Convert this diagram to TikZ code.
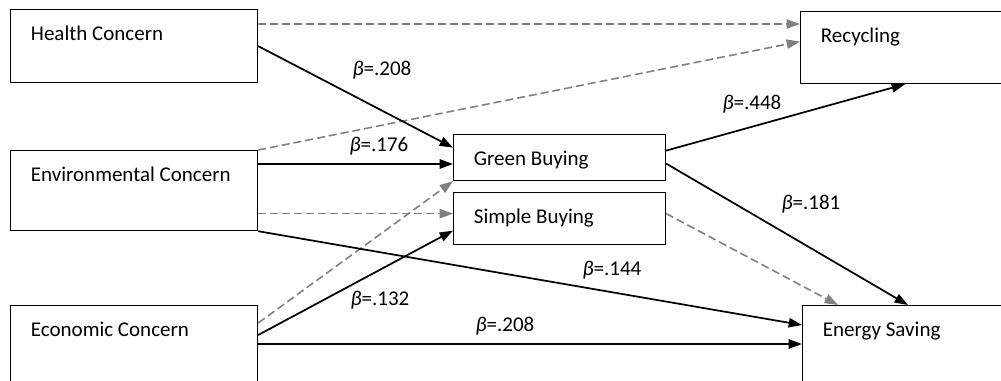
\documentclass[tikz,border=0pt]{standalone}
\usepackage{fontspec}
\setmainfont{Carlito}
\usetikzlibrary{arrows.meta}
\definecolor{cgray}{RGB}{128,128,128}

\begin{document}
\begin{tikzpicture}[x=0.75pt, y=-0.75pt,
    every node/.style={font=\fontsize{15.75}{19}\selectfont},
    box/.style={draw, line width=0.9pt, anchor=north west, inner sep=0pt,
                label={[anchor=base west, inner sep=0pt, xshift=15.5pt, yshift=-23.25pt]north west:#1}},
    big/.style={minimum width=185.25pt, minimum height=60pt},
    small/.style={minimum width=159pt},
    arrow/.style={-{Triangle[length=10pt, width=7pt]}, line width=1.3pt},
    darrow/.style={arrow, color=cgray, line width=1.2pt, dash pattern=on 6pt off 3pt},
    beta/.style={inner sep=0pt},
  ]
  \path[use as bounding box] (0,0) rectangle (1001,380);
  \clip (0,0) rectangle (1001,380);

  % Concerns
  \node[box=Health Concern, big, minimum height=54.75pt] (health) at (10,9) {};
  \node[box=Environmental Concern, big] (env) at (10,150) {};
  \node[box=Economic Concern, big] (econ) at (10,305) {};

  % Buying
  \node[box=Green Buying, small, minimum height=34.5pt] (green) at (453,134) {};
  \node[box=Simple Buying, small, minimum height=39pt] (simple) at (453,192) {};

  % Outcomes
  \node[box=Recycling, big, minimum height=54pt] (recyc) at (800,11) {};
  \node[box=Energy Saving, big] (energy) at (802,305) {};

  % Non-significant paths
  \draw[darrow] ([yshift=-11.25pt]health.north east) -- ([yshift=-11.25pt]health.north east -| recyc.west);
  \draw[darrow] (env.north east) -- ([yshift=-22.9pt]recyc.north west);
  \draw[darrow] ([yshift=3.75pt]simple.west -| env.east) -- ([yshift=3.75pt]simple.west);
  \draw[darrow] ([yshift=-13.5pt]econ.north east) -- (green.south west);
  \draw[darrow] ([yshift=3.75pt]simple.east) -- ([xshift=27pt]energy.north west);

  % Significant paths
  \draw[arrow] (health.east) -- ([yshift=7.5pt]green.west);
  \draw[arrow] ([yshift=-10.5pt]env.north east) -- ([yshift=-10.5pt]env.north east -| green.west);
  \draw[arrow] ([yshift=-22.5pt]econ.north east) -- ([yshift=-9pt]simple.west);
  \draw[arrow] (env.south east) -- ([yshift=-15pt]energy.north west);
  \draw[arrow] ([yshift=-29.25pt]econ.north east) -- ([yshift=-29.25pt]econ.north east -| energy.west);
  \draw[arrow] ([yshift=5.25pt]green.east) -- ([xshift=78.75pt]recyc.south west);
  \draw[arrow] ([yshift=-4.5pt]green.east) -- ([xshift=79.5pt]energy.north west);

  % Coefficients
  \node[beta] (b208a) at (382,70) {\textit{β}=.208};
  \node[beta] (b176) at (379,146) {\textit{β}=.176};
  \node[beta] (b448) at (752,104) {\textit{β}=.448};
  \node[beta] (b181) at (811,204) {\textit{β}=.181};
  \node[beta] (b144) at (612,270) {\textit{β}=.144};
  \node[beta] (b132) at (380,300) {\textit{β}=.132};
  \node[beta] (b208b) at (505,326) {\textit{β}=.208};
\end{tikzpicture}
\end{document}
